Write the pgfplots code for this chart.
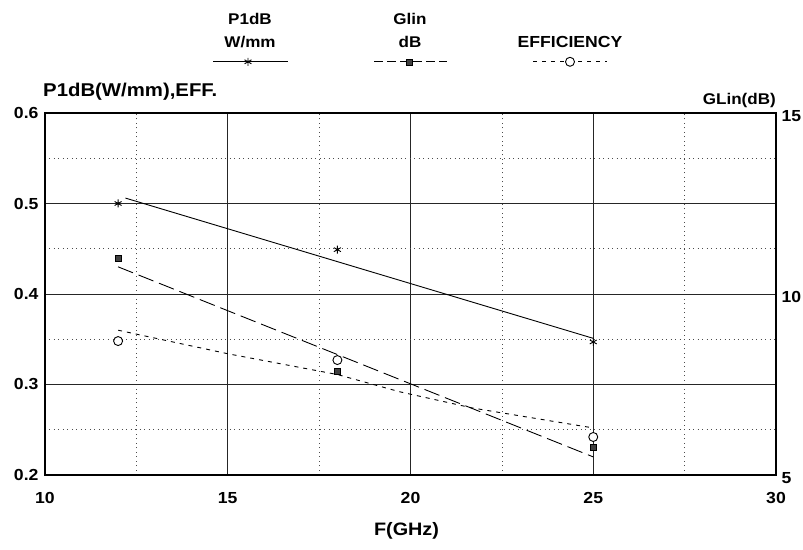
\documentclass[border=0pt]{standalone}
\usepackage{fontspec}
\setmainfont{Liberation Sans}[FakeStretch=1.1]
\usepackage{pgfplots}
\pgfplotsset{compat=1.18}
\begin{document}
\begin{tikzpicture}
\begin{axis}[
  name=main,
  scale only axis, width=731pt, height=362pt,
  xmin=10, xmax=30, ymin=0.2, ymax=0.6,
  xtick={10,15,20,25,30}, ytick={0.2,0.3,0.4,0.5,0.6},
  minor x tick num=1, minor y tick num=1,
  grid=both,
  major grid style={black!85, line width=1pt},
  minor grid style={black!70, line width=0.7pt, dash pattern=on 1pt off 3.5pt},
  major tick length=0pt, minor tick length=0pt,
  axis line style={black, line width=1.2pt},
  /pgf/number format/assume math mode=true,
  y tick label style={/pgf/number format/fixed, /pgf/number format/precision=1, /pgf/number format/fixed zerofill,
    font=\bfseries\fontsize{16}{18}\selectfont, xshift=-3pt},
  x tick label style={font=\bfseries\fontsize{16}{18}\selectfont, yshift=-14pt},
  legend columns=3,
  legend style={at={(0.5,1)}, anchor=south, yshift=41pt, draw=none, fill=none, inner sep=0pt,
    column sep=0pt, row sep=0pt, nodes={inner sep=0pt, draw=none}},
]
\addlegendimage{legend image code/.code={
  \path[draw=none, fill=none] (-79.5pt,-10pt) rectangle (79.5pt,55pt);
  \draw[black, line width=0.9pt, solid] (-37pt,0pt) -- (38pt,0pt);
  \draw[black, line width=0.9pt, solid] plot[only marks, mark=asterisk, mark size=4pt] coordinates {(-2pt,0pt)};
  \node[draw=none, anchor=base, font=\bfseries\fontsize{15.5}{18}\selectfont, inner sep=0pt] at (0pt,14pt) {W/mm};
  \node[draw=none, anchor=base, font=\bfseries\fontsize{15.5}{18}\selectfont, inner sep=0pt] at (0pt,37pt) {P1dB};
}}
\addlegendentry{\mbox{}}
\addlegendimage{legend image code/.code={
  \path[draw=none, fill=none] (-79.5pt,-10pt) rectangle (79.5pt,55pt);
  \draw[black, line width=0.9pt, dash pattern=on 9pt off 4pt] (-36pt,0pt) -- (37pt,0pt);
  \draw[black, solid, fill=black!75] plot[only marks, mark=square*, mark size=3pt] coordinates {(-1pt,0pt)};
  \node[draw=none, anchor=base, font=\bfseries\fontsize{15.5}{18}\selectfont, inner sep=0pt] at (0pt,14pt) {dB};
  \node[draw=none, anchor=base, font=\bfseries\fontsize{15.5}{18}\selectfont, inner sep=0pt] at (0pt,37pt) {Glin};
}}
\addlegendentry{\mbox{}}
\addlegendimage{legend image code/.code={
  \path[draw=none, fill=none] (-79.5pt,-10pt) rectangle (79.5pt,55pt);
  \draw[black, line width=0.9pt, dash pattern=on 4pt off 5pt] (-37pt,0pt) -- (37pt,0pt);
  \draw[black, solid, fill=white, line width=0.9pt] plot[only marks, mark=*, mark size=4.5pt] coordinates {(0pt,0pt)};
  \node[draw=none, anchor=base, font=\bfseries\fontsize{16}{18}\selectfont, inner sep=0pt] at (0pt,14pt) {EFFICIENCY};
}}
\addlegendentry{\mbox{}}
% P1dB
\addplot[black, line width=0.9pt, solid, forget plot] coordinates {(12.2,0.506) (25,0.351)};
\addplot[black, only marks, mark=asterisk, mark size=4pt, line width=0.9pt, forget plot] coordinates {(12,0.500) (18,0.449) (25,0.347)};
% Efficiency
\addplot[black, line width=0.9pt, dash pattern=on 4pt off 5pt, forget plot] coordinates {(12,0.360) (15,0.334) (18,0.311) (19.7,0.292) (21.7,0.274) (25,0.252)};
\addplot[black, only marks, mark=*, mark size=4.5pt, mark options={fill=white, line width=0.9pt}, forget plot] coordinates {(12,0.348) (18,0.327) (25,0.242)};
\end{axis}
\begin{axis}[
  scale only axis, width=731pt, height=362pt,
  xmin=10, xmax=30, ymin=5, ymax=15,
  ytick={5,10,15},
  axis y line*=right, axis x line=none,
  major tick length=0pt, minor tick length=0pt,
  axis line style={black, line width=1.2pt},
  /pgf/number format/assume math mode=true,
  y tick label style={font=\bfseries\fontsize{16}{18}\selectfont, xshift=2pt, yshift=-3pt},
]
% Glin (dB)
\addplot[black, line width=0.9pt, dash pattern=on 16pt off 6pt] coordinates {(12,10.75) (25,5.5)};
\addplot[black, only marks, mark=square*, mark size=3pt, mark options={fill=black!75, draw=black, solid}] coordinates {(12,11.0) (18,7.88) (25,5.78)};
\end{axis}
\node[anchor=base west, font=\bfseries\fontsize{18.5}{21}\selectfont, inner sep=0pt] at ([xshift=-2pt,yshift=16pt]main.north west) {P1dB(W/mm),EFF.};
\node[anchor=base east, font=\bfseries\fontsize{15.5}{18}\selectfont, inner sep=0pt] at ([xshift=0pt,yshift=8pt]main.north east) {GLin(dB)};
\node[anchor=base, font=\bfseries\fontsize{18}{20}\selectfont, inner sep=0pt] at ([xshift=-4pt,yshift=-60pt]main.south) {F(GHz)};
\pgfresetboundingbox
\path ([shift={(-45pt,-74pt)}]main.south west) rectangle ([shift={(27pt,113pt)}]main.north east);
\end{tikzpicture}
\end{document}
